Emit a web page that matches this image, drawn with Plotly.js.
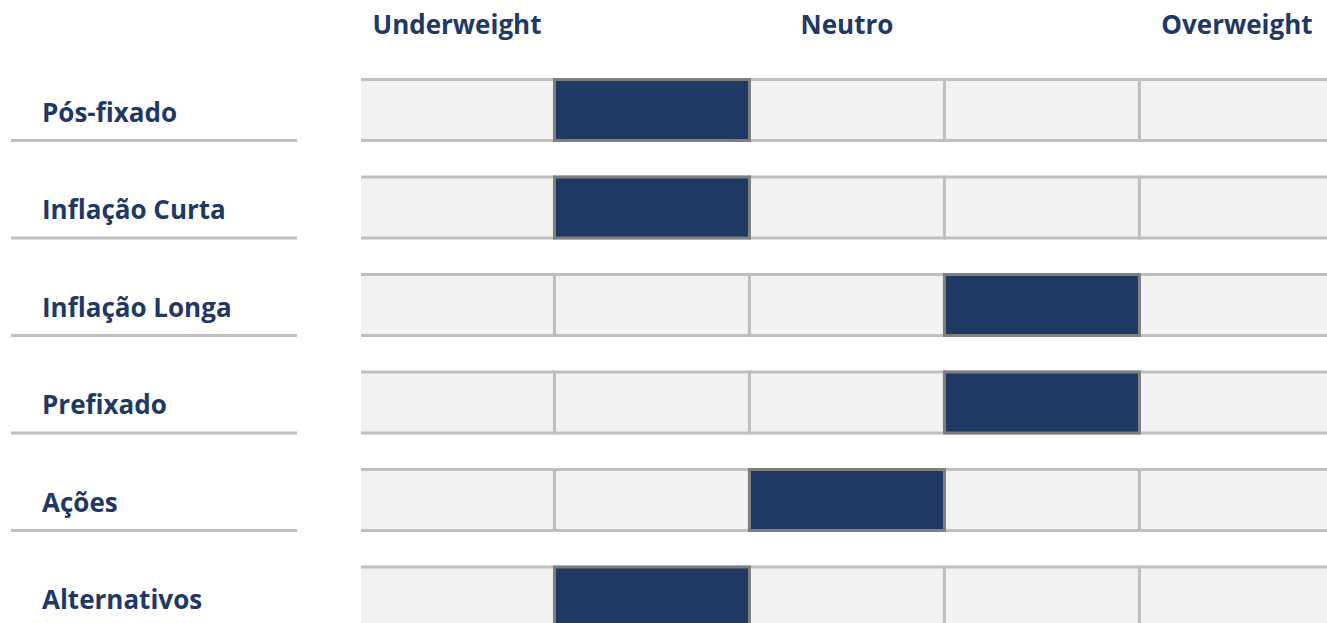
<!DOCTYPE html>
<html>
<head>
<meta charset="utf-8">
<script src="https://cdn.plot.ly/plotly-3.0.1.min.js"></script>
<style>html,body{margin:0;padding:0;background:#fff;}#chart{width:1327px;height:623px;}</style>
</head>
<body>
<div id="chart"></div>
<script>
// ---- data ----
const categories = ["Pós-fixado", "Inflação Curta", "Inflação Longa", "Prefixado", "Ações", "Alternativos"];
const levels = ["Underweight", "", "Neutro", "", "Overweight"];
const positions = [1, 1, 3, 3, 2, 1]; // index into levels (column of the highlighted cell)

// ---- styles ----
const NAVY = "#1f3864";
const FONT = "Open Sans";
const L = 361, W = 1327 - 361;
const yRange = [5.262, -0.636];
const toPaperY = v => (yRange[0] - v) / (yRange[0] - yRange[1]);

// background grid of cells
const gy = [], gbase = [], gx = [];
categories.forEach((c, i) => {
  levels.forEach((l, j) => { gy.push(i); gbase.push(j); gx.push(1); });
});
const gridTrace = {
  type: "bar", orientation: "h", y: gy, x: gx, base: gbase, width: 0.626,
  marker: {color: "#f2f2f2", line: {color: "#bfbfbf", width: 3}},
  hoverinfo: "skip", showlegend: false
};
const posTrace = {
  type: "bar", orientation: "h",
  y: categories.map((c, i) => i), x: categories.map(() => 1), base: positions, width: 0.626,
  marker: {color: "#203864", line: {color: "#7f7f7f", width: 3}},
  hoverinfo: "skip", showlegend: false
};

const annotations = categories.map((c, i) => ({
  text: c, xref: "paper", yref: "y", x: (40 - L) / W, y: i + 0.02,
  xanchor: "left", yanchor: "middle", showarrow: false,
  font: {family: FONT, size: 26, color: NAVY, weight: "bold"}
}));
const shapes = categories.map((c, i) => ({
  type: "line", xref: "paper", yref: "paper",
  x0: (11 - L) / W, x1: (297 - L) / W,
  y0: toPaperY(i + 0.313), y1: toPaperY(i + 0.313),
  line: {color: "#bfbfbf", width: 3}
}));

const tickvals = [], ticktext = [];
levels.forEach((l, j) => { if (l) { tickvals.push(j + 0.5); ticktext.push(l); } });

const layout = {
  width: 1327, height: 623,
  margin: {l: L, r: 0, t: 48, b: 0},
  paper_bgcolor: "#ffffff", plot_bgcolor: "#ffffff",
  barmode: "overlay",
  xaxis: {range: [0.0077, 4.962], side: "top", tickvals: tickvals, ticktext: ticktext,
          showgrid: false, zeroline: false, showline: false, ticks: "", ticklabelstandoff: 8,
          tickfont: {family: FONT, size: 26, color: NAVY, weight: "bold"}, fixedrange: true},
  yaxis: {range: yRange, showgrid: false, zeroline: false, showline: false,
          showticklabels: false, ticks: "", fixedrange: true},
  annotations: annotations, shapes: shapes, showlegend: false
};
Plotly.newPlot("chart", [gridTrace, posTrace], layout, {displayModeBar: false, staticPlot: true});
</script>
</body>
</html>
